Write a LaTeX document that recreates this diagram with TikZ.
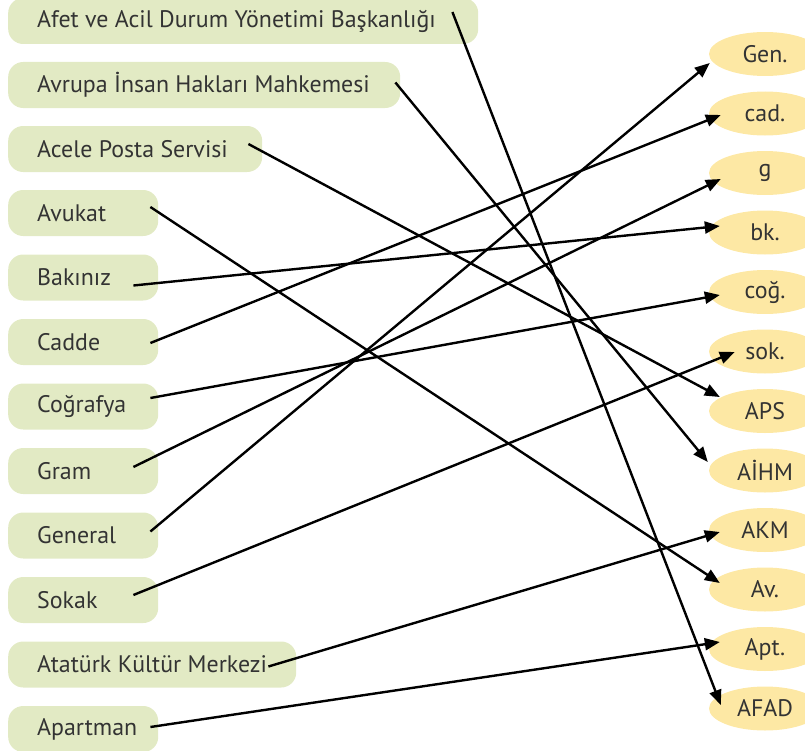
\documentclass[tikz,border=0pt]{standalone}
\usepackage{fontspec}
\setmainfont{PT Sans}
\usetikzlibrary{shapes,positioning,arrows.meta}
\tikzset{>={Triangle[length=15bp,width=12bp]}}
\definecolor{boxGreen}{HTML}{E2EAC4}
\definecolor{ovalYellow}{HTML}{FDE8A4}
\colorlet{textColor}{black!80}

\begin{document}
\begin{tikzpicture}[x=1bp,y=-1bp,
    lbox/.style={rounded corners=15bp,fill=boxGreen,text=textColor,anchor=west,
      minimum height=46bp,inner xsep=29bp,inner ysep=0pt,
      execute at begin node={\hbox to #1\bgroup},execute at end node={\hss\egroup},
      font=\fontsize{24}{28}\selectfont},
    lbox/.default=92bp,
    oval/.style={ellipse,fill=ovalYellow,text=textColor,minimum width=112bp,
      minimum height=44bp,inner sep=0pt,font=\fontsize{24}{28}\selectfont},
    link/.style={->,line width=2.4bp}]
  \useasboundingbox (0,0) rectangle (805,751);
  % left column
  \node[lbox=412bp] (afet) at (8,21) {Afet ve Acil Durum Yönetimi Başkanlığı};
  \node[lbox=334bp] (avrupa) at (8,85) {Avrupa İnsan Hakları Mahkemesi};
  \node[lbox=196bp] (acele) at (8,149) {Acele Posta Servisi};
  \node[lbox] (avukat) at (8,213) {Avukat};
  \node[lbox] (bakiniz) at (8,277.5) {Bakınız};
  \node[lbox] (cadde) at (8,342) {Cadde};
  \node[lbox] (cografya) at (8,406.5) {Coğrafya};
  \node[lbox] (gram) at (8,471) {Gram};
  \node[lbox] (general) at (8,535.5) {General};
  \node[lbox] (sokak) at (8,600) {Sokak};
  \node[lbox=230bp] (ataturk) at (8,664.5) {Atatürk Kültür Merkezi};
  \node[lbox] (apartman) at (8,729) {Apartman};
  % right column
  \node[oval] (gen) at (765,54) {Gen.};
  \node[oval] (cad) at (765,113.5) {cad.};
  \node[oval] (g) at (765,173) {g};
  \node[oval] (bk) at (765,232.5) {bk.};
  \node[oval] (cog) at (765,292) {coğ.};
  \node[oval] (sok) at (765,351.5) {sok.};
  \node[oval] (aps) at (765,411) {APS};
  \node[oval] (aihm) at (765,470.5) {AİHM};
  \node[oval] (akm) at (765,530) {AKM};
  \node[oval] (av) at (765,589.5) {Av.};
  \node[oval] (apt) at (765,649) {Apt.};
  \node[oval] (afad) at (765,708.5) {AFAD};
  % matching arrows
  \draw[link] ([shift={(-26,-9)}]afet.east) -- ([shift={(12,-3.5)}]afad.west);
  \draw[link] ([shift={(-5,-2.5)}]avrupa.east) -- ([shift={(-1,-8.5)}]aihm.west);
  \draw[link] ([shift={(-14,-5)}]acele.east) -- ([shift={(11,-14)}]aps.west);
  \draw[link] ([shift={(-8,-6)}]avukat.east) -- ([shift={(11,-6.5)}]av.west);
  \draw[link] ([shift={(-25,8)}]bakiniz.east) -- ([shift={(11,-6.5)}]bk.west);
  \draw[link] ([shift={(-8,1)}]cadde.east) -- ([shift={(12,1.5)}]cad.west);
  \draw[link] ([shift={(-8,-8.5)}]cografya.east) -- ([shift={(11,3)}]cog.west);
  \draw[link] ([shift={(-25,-4)}]gram.east) -- ([shift={(12,6)}]g.west);
  \draw[link] ([shift={(-8,-4)}]general.east) -- ([shift={(1,9)}]gen.west);
  \draw[link] ([shift={(-25,-5)}]sokak.east) -- ([shift={(26,0.5)}]sok.west);
  \draw[link] ([shift={(-28,2)}]ataturk.east) -- ([shift={(11,2)}]akm.west);
  \draw[link] ([shift={(-8,-2)}]apartman.east) -- ([shift={(11,-7)}]apt.west);
\end{tikzpicture}
\end{document}
